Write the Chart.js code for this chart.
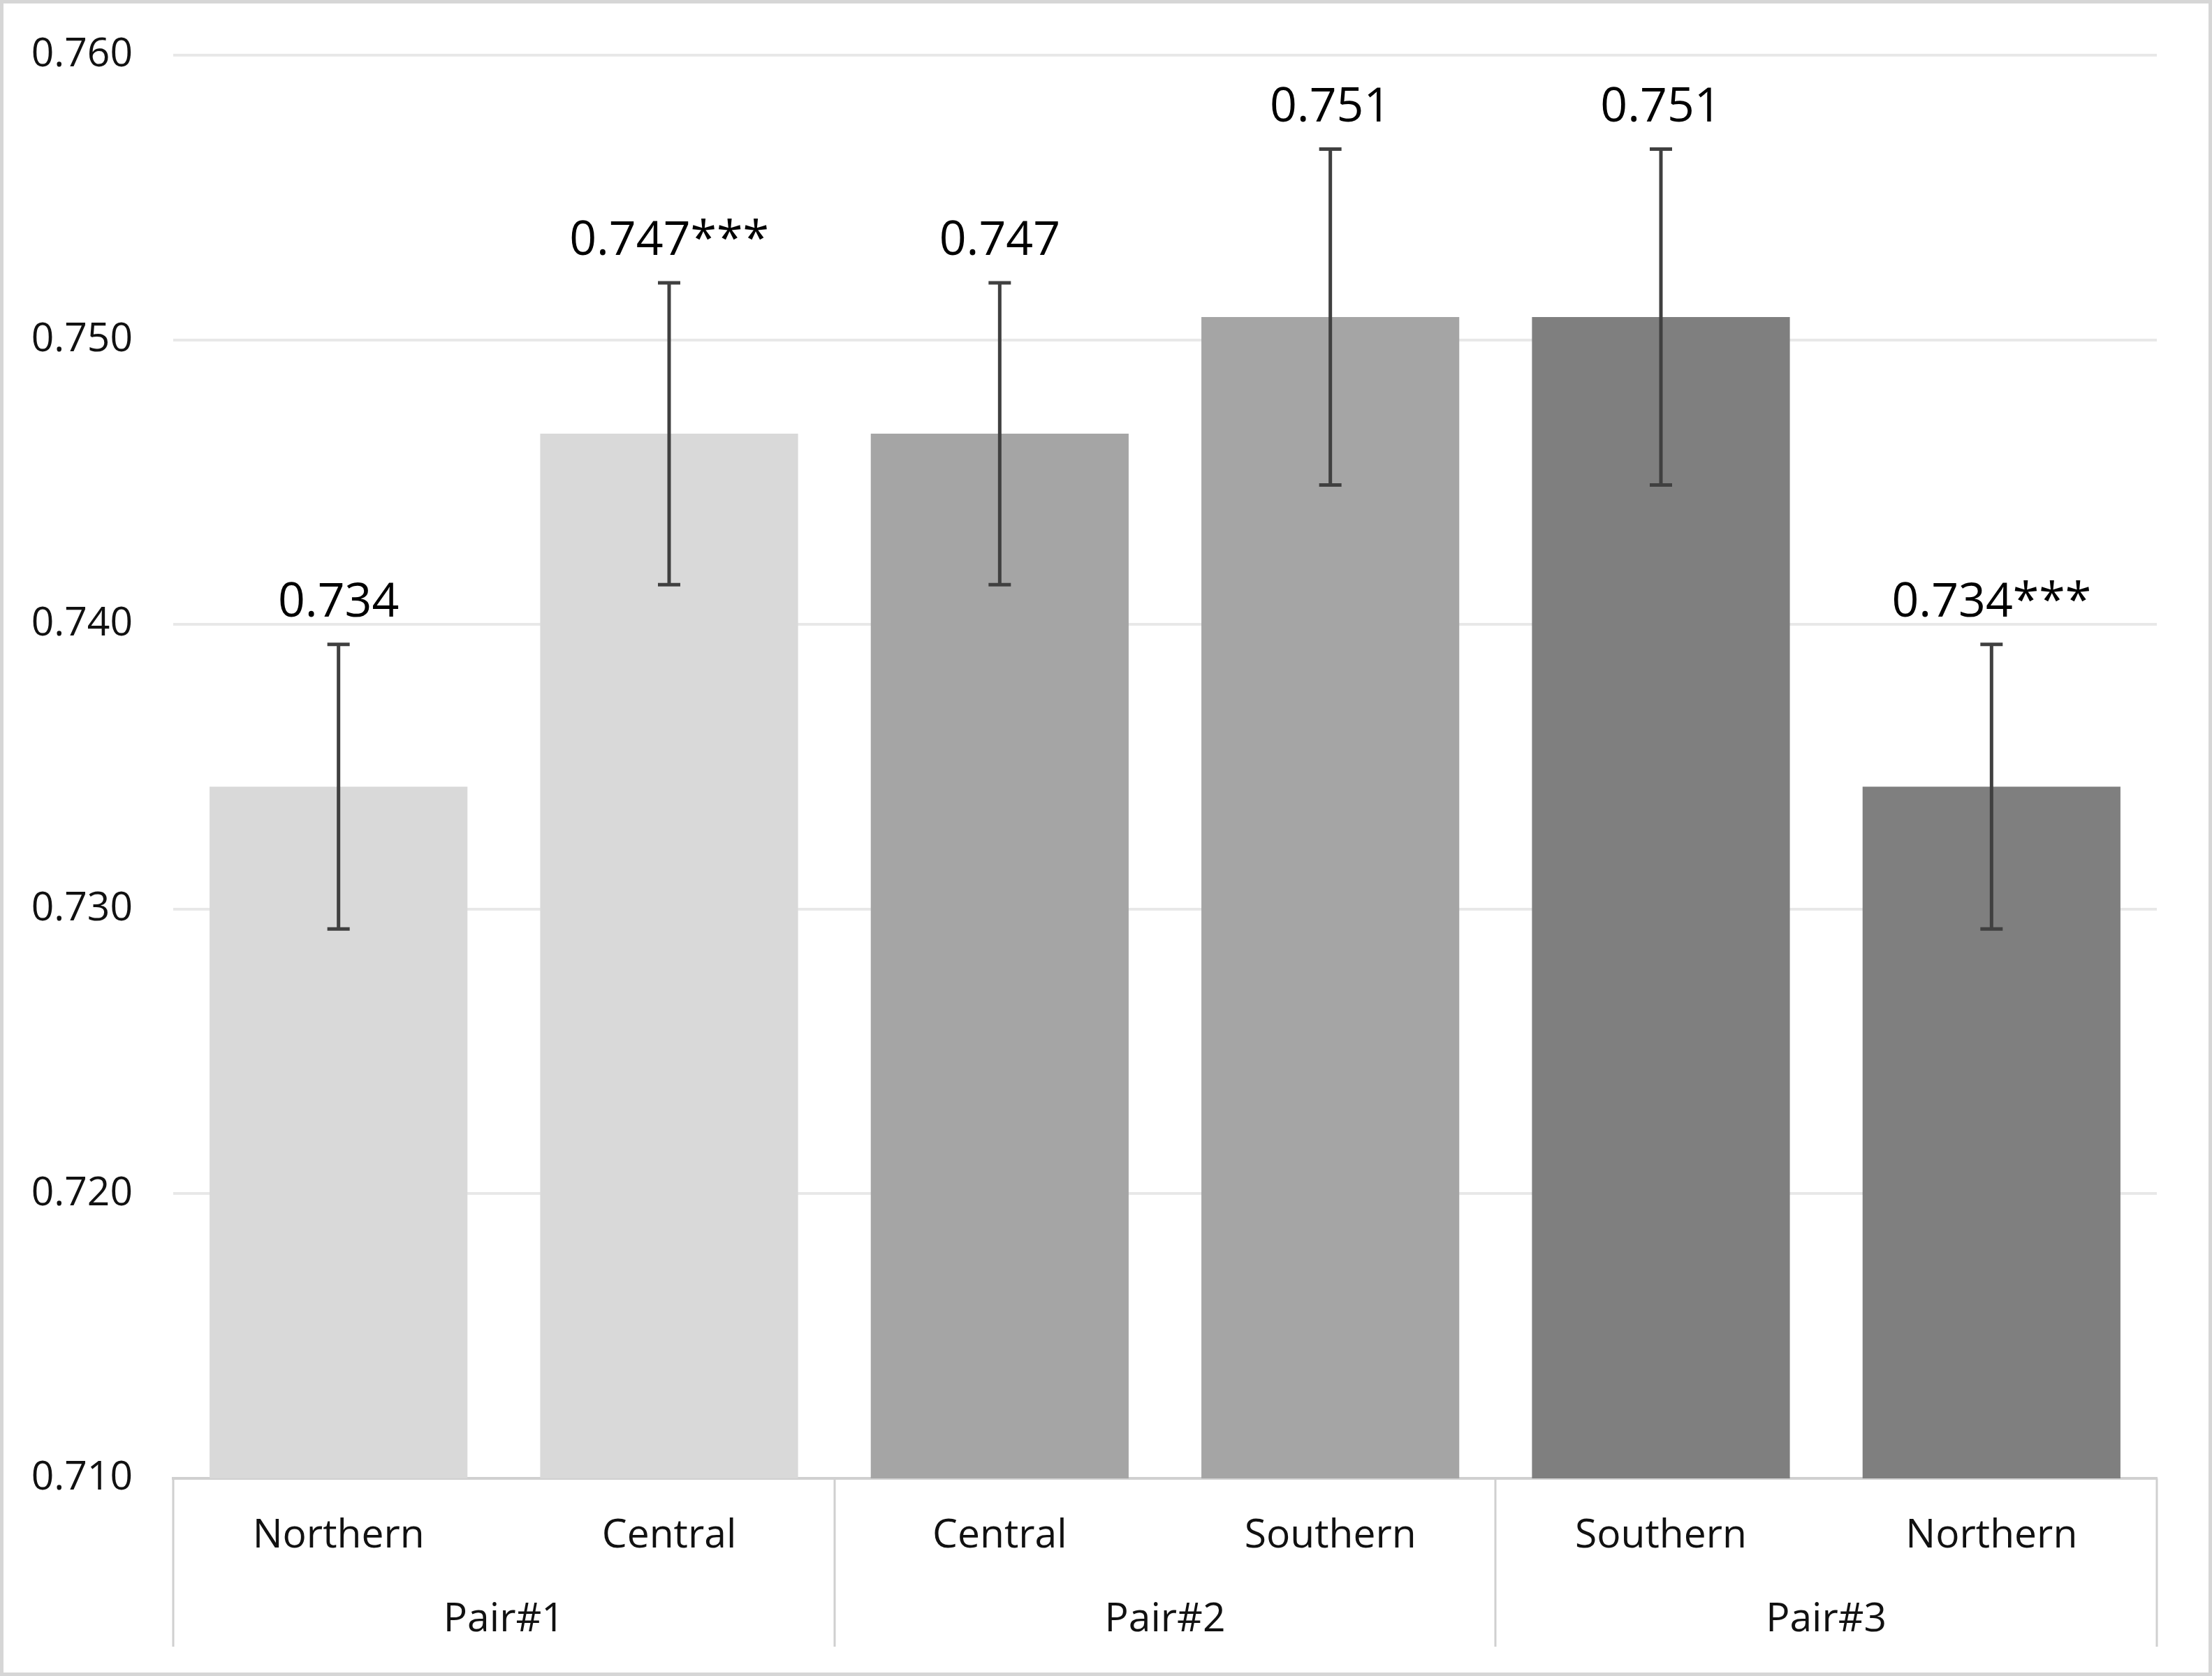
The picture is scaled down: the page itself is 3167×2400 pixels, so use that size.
<!DOCTYPE html>
<html>
<head>
<meta charset="utf-8">
<script src="https://cdn.jsdelivr.net/npm/chart.js@4.4.1/dist/chart.umd.min.js"></script>
<style>
    html, body { margin: 0; padding: 0; background: #fff; }
    #wrap { width: 3167px; height: 2400px; box-sizing: border-box; border: 5px solid #d6d6d6; background: #fff; }
    canvas { display: block; }
</style>
</head>
<body>
<div id="wrap"><canvas id="chart" width="3157" height="2390"></canvas></div>
<script>
const regions = ['Northern', 'Central', 'Central', 'Southern', 'Southern', 'Northern'];
const pairs = ['Pair#1', 'Pair#2', 'Pair#3'];
const means = [0.7343, 0.7467, 0.7467, 0.7508, 0.7508, 0.7343];
const errors = [0.0050, 0.0053, 0.0053, 0.0059, 0.0059, 0.0050];
const valueLabels = ['0.734', '0.747***', '0.747', '0.751', '0.751', '0.734***'];
const barColors = ['#d9d9d9', '#d9d9d9', '#a5a5a5', '#a5a5a5', '#7f7f7f', '#7f7f7f'];
const yMin = 0.710, yMax = 0.760, yStep = 0.010;

const FONT = 'Open Sans';

// error bars, value labels and the boxes round the two-level category axis
const extras = {
    id: 'extras',
    afterDatasetsDraw(chart) {
        const { ctx, scales: { x, y, x2 } } = chart;
        const meta = chart.getDatasetMeta(0);
        ctx.save();
        meta.data.forEach((bar, i) => {
            const hi = y.getPixelForValue(means[i] + errors[i]);
            const lo = y.getPixelForValue(means[i] - errors[i]);
            ctx.strokeStyle = '#404040';
            ctx.lineWidth = 5;
            ctx.beginPath();
            ctx.moveTo(bar.x, hi); ctx.lineTo(bar.x, lo);
            ctx.moveTo(bar.x - 16, hi); ctx.lineTo(bar.x + 16, hi);
            ctx.moveTo(bar.x - 16, lo); ctx.lineTo(bar.x + 16, lo);
            ctx.stroke();

            ctx.fillStyle = '#000';
            ctx.font = '68px "' + FONT + '"';
            ctx.textAlign = 'center';
            ctx.textBaseline = 'alphabetic';
            ctx.fillText(valueLabels[i], bar.x, hi - 40);
        });

        const per = regions.length / pairs.length;
        const boxBottom = x2.bottom - 37;
        ctx.strokeStyle = '#d0d0d0';
        ctx.lineWidth = 3;
        ctx.beginPath();
        for (let k = 0; k <= pairs.length; k++) {
            const px = Math.round(x.getPixelForValue(k * per - 0.5));
            ctx.moveTo(px, x.top);
            ctx.lineTo(px, boxBottom);
        }
        ctx.stroke();
        ctx.restore();
    }
};

new Chart(document.getElementById('chart'), {
    type: 'bar',
    data: {
        labels: regions,
        datasets: [{
            data: means,
            backgroundColor: barColors,
            borderWidth: 0,
            categoryPercentage: 1,
            barPercentage: 0.78
        }]
    },
    options: {
        responsive: false,
        devicePixelRatio: 1,
        animation: false,
        layout: { padding: { top: 74, right: 74, left: 0, bottom: 0 } },
        plugins: { legend: { display: false }, tooltip: { enabled: false } },
        scales: {
            x: {
                grid: { display: false, drawTicks: false },
                border: { display: true, color: '#d0d0d0', width: 4 },
                ticks: { color: '#111', padding: 49, font: { family: FONT, size: 57 } },
                afterFit(scale) { scale.height = 140; }
            },
            x2: {
                type: 'category',
                labels: pairs,
                position: 'bottom',
                offset: true,
                grid: { display: false, drawTicks: false },
                border: { display: false },
                ticks: { color: '#111', padding: 29, font: { family: FONT, size: 57 } },
                afterFit(scale) { scale.height = 138; }
            },
            y: {
                min: yMin,
                max: yMax,
                ticks: {
                    stepSize: yStep,
                    color: '#111',
                    padding: 58,
                    font: { family: FONT, size: 57 },
                    callback: v => v.toFixed(3)
                },
                grid: {
                    drawTicks: false,
                    lineWidth: 4,
                    color: c => (c.tick && c.tick.value < yMin + 0.0005) ? 'rgba(0,0,0,0)' : '#e8e8e8'
                },
                border: { display: false },
                afterFit(scale) {
                    scale.width = 243;
                    scale.paddingTop = 0;
                    scale.paddingBottom = 0;
                }
            }
        }
    },
    plugins: [extras]
});
</script>
</body>
</html>
